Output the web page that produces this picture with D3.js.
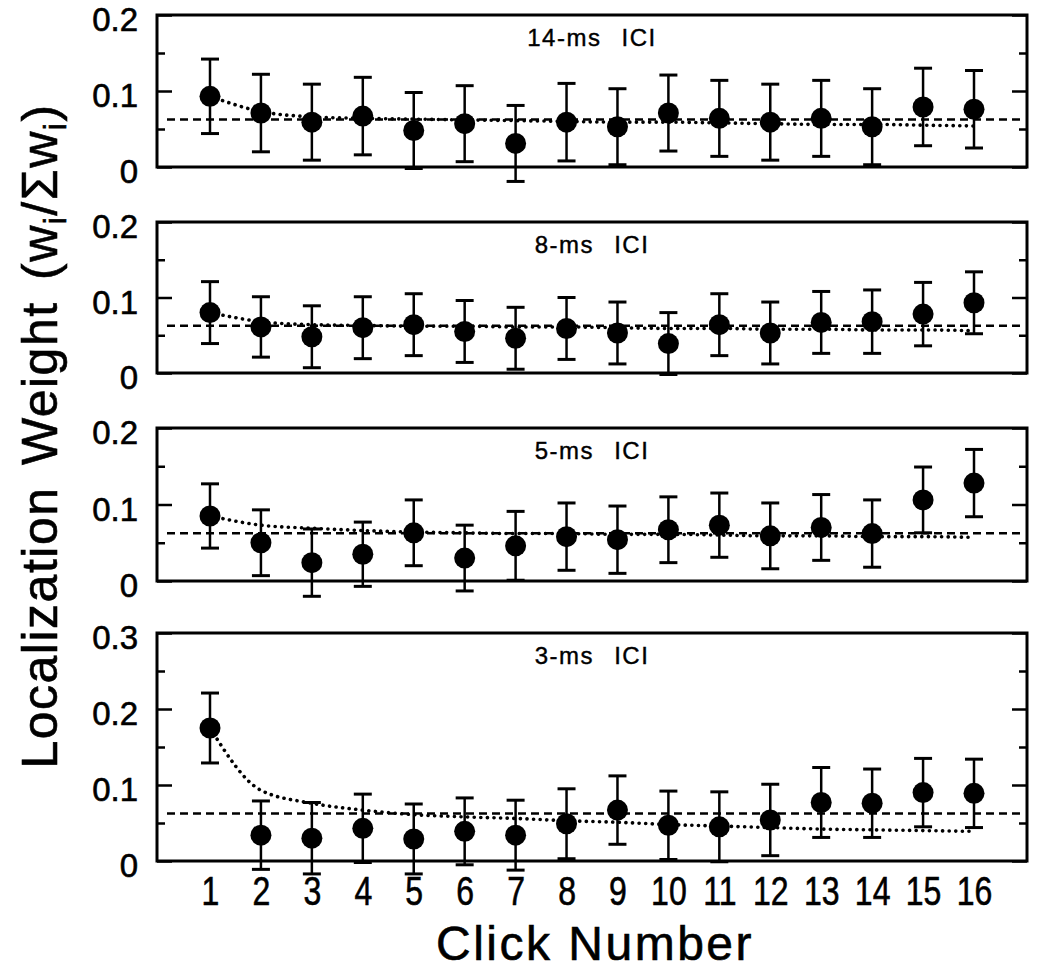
<!DOCTYPE html>
<html>
<head>
<meta charset="utf-8">
<script src="https://cdn.jsdelivr.net/npm/d3@7/dist/d3.min.js"></script>
<style>
  body { margin: 0; background: #fff; }
  svg text { font-family: "Liberation Sans", Arial, sans-serif; fill: #000; stroke: #000; stroke-width: 0.6px; }
</style>
</head>
<body>
<div id="chart"></div>
<script>
// click positions within the train
const clicks = [1, 2, 3, 4, 5, 6, 7, 8, 9, 10, 11, 12, 13, 14, 15, 16];
const panelLabels = ["14-ms ICI", "8-ms ICI", "5-ms ICI", "3-ms ICI"];

// normalized weights (mean) and half-width of the error bars
const ici14Mean = [0.093, 0.071, 0.059, 0.067, 0.048, 0.057, 0.031, 0.059, 0.053, 0.071, 0.064, 0.059, 0.064, 0.053, 0.079, 0.076];
const ici14Err  = [0.049, 0.051, 0.050, 0.051, 0.050, 0.050, 0.050, 0.051, 0.050, 0.050, 0.050, 0.050, 0.050, 0.050, 0.051, 0.051];
const ici14Fit  = [0.093, 0.073, 0.066, 0.064, 0.063, 0.062, 0.061, 0.060, 0.059, 0.059, 0.058, 0.057, 0.056, 0.056, 0.055, 0.054];

const ici8Mean = [0.080, 0.061, 0.048, 0.060, 0.064, 0.055, 0.046, 0.059, 0.053, 0.039, 0.064, 0.053, 0.067, 0.068, 0.078, 0.093];
const ici8Err  = [0.041, 0.040, 0.041, 0.041, 0.041, 0.041, 0.041, 0.041, 0.041, 0.041, 0.041, 0.041, 0.041, 0.042, 0.042, 0.041];
const ici8Fit  = [0.080, 0.068, 0.064, 0.063, 0.062, 0.062, 0.061, 0.061, 0.060, 0.059, 0.059, 0.058, 0.058, 0.057, 0.057, 0.056];

const ici5Mean = [0.085, 0.050, 0.024, 0.035, 0.063, 0.030, 0.046, 0.058, 0.054, 0.067, 0.073, 0.059, 0.070, 0.062, 0.106, 0.128];
const ici5Err  = [0.042, 0.043, 0.044, 0.042, 0.043, 0.043, 0.045, 0.044, 0.044, 0.043, 0.042, 0.043, 0.043, 0.044, 0.043, 0.044];
const ici5Fit  = [0.085, 0.073, 0.069, 0.066, 0.064, 0.063, 0.062, 0.062, 0.061, 0.061, 0.060, 0.059, 0.059, 0.058, 0.058, 0.057];

const ici3Mean = [0.175, 0.034, 0.030, 0.043, 0.029, 0.039, 0.034, 0.049, 0.067, 0.047, 0.045, 0.054, 0.077, 0.076, 0.090, 0.089];
const ici3Err  = [0.046, 0.045, 0.047, 0.045, 0.046, 0.044, 0.046, 0.046, 0.045, 0.045, 0.046, 0.047, 0.046, 0.045, 0.045, 0.045];
const ici3Fit  = [0.175, 0.093, 0.076, 0.067, 0.061, 0.058, 0.056, 0.053, 0.051, 0.048, 0.046, 0.044, 0.042, 0.041, 0.040, 0.039];

const chanceWeight = 0.0625; // 1/16
const yTicksShort = [0, 0.1, 0.2];
const yMinorShort = [0.05, 0.15];
const yTicksTall = [0, 0.1, 0.2, 0.3];
const yMinorTall = [0.05, 0.15, 0.25];

const width = 1050, height = 976;
const frameLeft = 157, frameRight = 1027;

const panels = [
    { label: panelLabels[0], mean: ici14Mean, err: ici14Err, fit: ici14Fit, ticks: yTicksShort, minor: yMinorShort, top: 15,  bottom: 167 },
    { label: panelLabels[1], mean: ici8Mean,  err: ici8Err,  fit: ici8Fit,  ticks: yTicksShort, minor: yMinorShort, top: 222, bottom: 373 },
    { label: panelLabels[2], mean: ici5Mean,  err: ici5Err,  fit: ici5Fit,  ticks: yTicksShort, minor: yMinorShort, top: 428, bottom: 581 },
    { label: panelLabels[3], mean: ici3Mean,  err: ici3Err,  fit: ici3Fit,  ticks: yTicksTall,  minor: yMinorTall,  top: 633, bottom: 861 }
];

const svg = d3.select("#chart")
    .append("svg")
      .attr("width", width)
      .attr("height", height);

const x = d3.scaleLinear()
    .domain([1, 16])
    .range([210, 974]);

const fmt = d => d === 0 ? "0" : d.toFixed(1);

panels.forEach(function(p, i) {
    const y = d3.scaleLinear()
        .domain([0, d3.max(p.ticks)])
        .range([p.bottom, p.top]);

    const g = svg.append("g");

    // inward ticks on both sides
    g.append("g")
        .attr("transform", "translate(" + frameLeft + ",0)")
        .call(d3.axisLeft(y).tickValues(p.ticks).tickSize(-15).tickPadding(19).tickFormat(fmt))
        .call(a => a.select(".domain").remove())
        .call(a => a.selectAll("line").attr("stroke-width", 2.5))
        .selectAll("text")
          .style("font-size", "33px")
          .attr("dy", "0.47em");
    g.append("g")
        .attr("transform", "translate(" + frameLeft + ",0)")
        .call(d3.axisLeft(y).tickValues(p.minor).tickSize(-8).tickFormat(""))
        .call(a => a.select(".domain").remove())
        .call(a => a.selectAll("line").attr("stroke-width", 2.5));
    g.append("g")
        .attr("transform", "translate(" + frameRight + ",0)")
        .call(d3.axisRight(y).tickValues(p.ticks).tickSize(-15).tickFormat(""))
        .call(a => a.select(".domain").remove())
        .call(a => a.selectAll("line").attr("stroke-width", 2.5));
    g.append("g")
        .attr("transform", "translate(" + frameRight + ",0)")
        .call(d3.axisRight(y).tickValues(p.minor).tickSize(-8).tickFormat(""))
        .call(a => a.select(".domain").remove())
        .call(a => a.selectAll("line").attr("stroke-width", 2.5));

    // chance level (dashed) and fitted curve (dotted)
    g.append("line")
        .attr("x1", frameLeft + 10)
        .attr("x2", frameRight - 2)
        .attr("y1", y(chanceWeight))
        .attr("y2", y(chanceWeight))
        .attr("stroke", "#000")
        .attr("stroke-width", 2.5)
        .attr("stroke-dasharray", "8,5");

    const fitLine = d3.line()
        .x((d, k) => x(clicks[k]))
        .y(d => y(d))
        .curve(d3.curveMonotoneX);
    g.append("path")
        .attr("d", fitLine(p.fit))
        .attr("fill", "none")
        .attr("stroke", "#000")
        .attr("stroke-width", 3.6)
        .attr("stroke-linecap", "round")
        .attr("stroke-dasharray", "0.1,6.5");

    const pts = clicks.map((c, k) => ({ click: c, mean: p.mean[k], err: p.err[k] }));

    const bars = g.selectAll(".ebar")
        .data(pts)
        .enter().append("g")
          .attr("class", "ebar");
    bars.append("line")
        .attr("x1", d => x(d.click)).attr("x2", d => x(d.click))
        .attr("y1", d => y(d.mean - d.err)).attr("y2", d => y(d.mean + d.err))
        .attr("stroke", "#000").attr("stroke-width", 2.5);
    bars.append("line")
        .attr("x1", d => x(d.click) - 9).attr("x2", d => x(d.click) + 9)
        .attr("y1", d => y(d.mean + d.err)).attr("y2", d => y(d.mean + d.err))
        .attr("stroke", "#000").attr("stroke-width", 3);
    bars.append("line")
        .attr("x1", d => x(d.click) - 9).attr("x2", d => x(d.click) + 9)
        .attr("y1", d => y(d.mean - d.err)).attr("y2", d => y(d.mean - d.err))
        .attr("stroke", "#000").attr("stroke-width", 3);
    bars.append("circle")
        .attr("cx", d => x(d.click))
        .attr("cy", d => y(d.mean))
        .attr("r", 10.5)
        .attr("fill", "#000");

    // frame
    g.append("rect")
        .attr("x", frameLeft)
        .attr("y", p.top)
        .attr("width", frameRight - frameLeft)
        .attr("height", p.bottom - p.top)
        .attr("fill", "none")
        .attr("stroke", "#000")
        .attr("stroke-width", 3);

    g.append("text")
        .attr("x", (frameLeft + frameRight) / 2)
        .attr("y", p.top + 31)
        .attr("text-anchor", "middle")
        .style("font-size", "24px")
        .style("stroke-width", "0.4px")
        .style("letter-spacing", "1.5px")
        .style("word-spacing", "12px")
        .text(p.label);

    if (i === panels.length - 1) {
        g.append("g")
            .attr("transform", "translate(0," + p.bottom + ")")
            .call(d3.axisBottom(x).tickValues(clicks).tickSize(0).tickPadding(16).tickFormat(d3.format("d")))
            .call(a => a.select(".domain").remove())
            .selectAll("text")
              .style("font-size", "40px")
              .attr("transform", "scale(0.8,1)");
    }
});

// axis titles
const yTitle = svg.append("text")
    .attr("transform", "translate(57,436) rotate(-90)")
    .attr("text-anchor", "middle")
    .style("font-size", "50px")
    .style("letter-spacing", "1.5px")
    .style("word-spacing", "6px");
yTitle.append("tspan").text("Localization Weight (w");
yTitle.append("tspan").attr("dy", 9).style("font-size", "32px").text("i");
yTitle.append("tspan").attr("dy", -9).text("/\u03A3w");
yTitle.append("tspan").attr("dy", 9).style("font-size", "32px").text("i");
yTitle.append("tspan").attr("dy", -9).text(")");

svg.append("text")
    .attr("x", 595)
    .attr("y", 960)
    .attr("text-anchor", "middle")
    .style("font-size", "48px")
    .style("letter-spacing", "2.5px")
    .text("Click Number");
</script>
</body>
</html>
